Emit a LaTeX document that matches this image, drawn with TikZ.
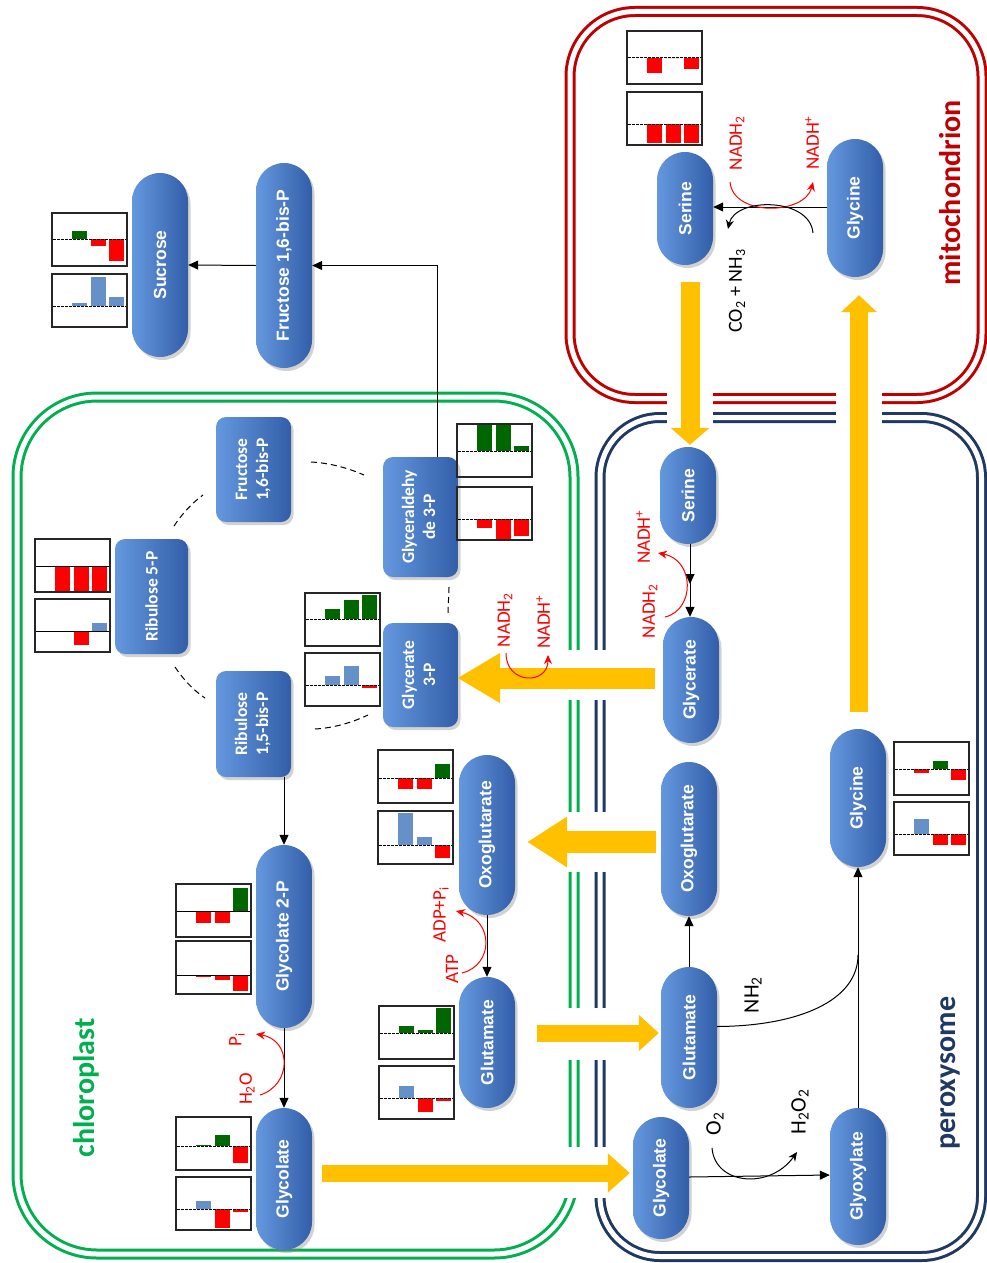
\documentclass[tikz,border=0pt]{standalone}
\usepackage{graphicx}
\usepackage{fontspec}
\setmainfont{Carlito}
\newfontfamily\pillfont{Liberation Sans}
\usetikzlibrary{arrows.meta,shadows,calc}

\definecolor{fatyellow}{HTML}{FFC000}
\definecolor{chlgreen}{HTML}{00B050}
\definecolor{mitored}{HTML}{C00000}
\definecolor{peronavy}{HTML}{1F3864}
\definecolor{bargreen}{HTML}{006600}
\definecolor{barred}{HTML}{FF0000}
\definecolor{barblue}{HTML}{6690C8}
\definecolor{pillL}{RGB}{100,152,222}
\definecolor{pillM}{RGB}{66,116,190}
\definecolor{pillR}{RGB}{50,94,168}

% small bar chart: x, y (top-left), baseline offset, then value/colour for three bars
\newcommand\barchart[9]{%
  \fill[#5] (#1+20,#2+#3) rectangle ++(15,{-(#4)});
  \fill[#7] (#1+38.5,#2+#3) rectangle ++(15,{-(#6)});
  \fill[#9] (#1+57,#2+#3) rectangle ++(15,{-(#8)});
  \draw[chartbase] (#1+1,#2+#3) -- ++(73,0);
  \draw[chartframe] (#1,#2) rectangle ++(75,53);
}
\newcommand\vtext[1]{\rotatebox{90}{#1}}
\newcommand\vstack[2]{\rotatebox{90}{\begin{tabular}{@{}c@{}}#1\\#2\end{tabular}}}

\begin{document}
\begin{tikzpicture}[x=1pt,y=-1pt,
  metab/.style={left color=pillL, middle color=pillM, right color=pillR,
    drop shadow={shadow xshift=2.5pt, shadow yshift=-3pt, opacity=.35},
    inner sep=0pt, text=white},
  pill/.style={metab, rounded corners=28pt, minimum width=56pt,
    font=\pillfont\bfseries\fontsize{17.5}{20}\selectfont},
  calvinbox/.style={metab, rounded corners=10pt, minimum width=75pt,
    font=\bfseries\fontsize{17.5}{21}\selectfont},
  membrane/.style={draw=#1, line width=3pt, double=white, double distance=5pt},
  chartframe/.style={draw=black!85, line width=1.4pt},
  chartbase/.style={black, line width=1pt, dash pattern=on 2.5pt off 1.5pt},
  solidbase/.style={black, line width=1pt},
  arr/.style={black, line width=1pt, -{Triangle[length=10pt,width=9pt]}},
  redarr/.style={barred, line width=1pt, -{Stealth[length=9pt,width=8pt]}},
  cyc/.style={black, line width=1pt, dash pattern=on 6pt off 4pt},
  note/.style={rotate=90, inner sep=0pt, font=\fontsize{19}{22}\selectfont},
  bignote/.style={note, font=\fontsize{22}{25}\selectfont},
  region/.style={rotate=90, inner sep=0pt, font=\bfseries\fontsize{30}{34}\selectfont},
  fat/.style={draw=fatyellow, line width=#1}
]
\fill[white] (0,0) rectangle (987,1263);
\useasboundingbox (0,0) rectangle (987,1263);

% compartments
\draw[membrane=chlgreen, rounded corners=80pt] (17,397) rectangle (574,1254);
\draw[membrane=mitored, rounded corners=65pt] (570,11.5) rectangle (982,398.5);
\draw[membrane=peronavy, rounded corners=60pt] (600,417.5) rectangle (981.5,1256.5);
% openings where metabolites cross
\fill[white] (560,650) rectangle (612,700);
\fill[white] (560,812) rectangle (612,872);
\fill[white] (560,1008) rectangle (612,1060);
\fill[white] (560,1147) rectangle (612,1198);
\fill[white] (667,386) rectangle (713,428);
\fill[white] (836,386) rectangle (882,428);

% metabolites
\node[pill, minimum height=184pt] (sucrose) at (160,265) {\vtext{Sucrose}};
\node[pill, minimum height=205pt] (fbpc) at (284,265.5) {\vtext{Fructose 1,6-bis-P}};
\node[pill, minimum height=183pt] (g2p) at (284,936.5) {\vtext{Glycolate 2-P}};
\node[pill, minimum height=142pt] (glycolC) at (284,1179) {\vtext{Glycolate}};
\node[pill, minimum height=160pt] (oxoC) at (487,835) {\vtext{Oxoglutarate}};
\node[pill, minimum height=131pt] (gluC) at (487,1042.5) {\vtext{Glutamate}};
\node[pill, minimum height=113pt] (serM) at (685,208.5) {\vtext{Serine}};
\node[pill, minimum height=138pt] (glyM) at (855,208) {\vtext{Glycine}};
\node[pill, minimum height=97pt] (serP) at (688,495.5) {\vtext{Serine}};
\node[pill, minimum height=126pt] (glycerP) at (691,680) {\vtext{Glycerate}};
\node[pill, minimum height=154pt] (oxoP) at (689,839) {\vtext{Oxoglutarate}};
\node[pill, minimum height=141pt] (gluP) at (689,1037.5) {\vtext{Glutamate}};
\node[pill, minimum height=122pt] (glycolP) at (661,1178) {\vtext{Glycolate}};
\node[pill, minimum height=137pt] (glyox) at (858,1176.5) {\vtext{Glyoxylate}};
\node[pill, minimum height=138pt] (glyP) at (858,798) {\vtext{Glycine}};

% Calvin cycle
\node[calvinbox, minimum height=105pt] (fbpr) at (253.5,469.5) {\vstack{Fructose}{1,6-bis-P}};
\node[calvinbox, minimum width=73pt, minimum height=115pt] (r5p) at (151.5,596.5) {\vtext{Ribulose 5-P}};
\node[calvinbox, minimum height=120pt] (gap) at (420.5,517) {\vstack{Glyceraldehy}{de 3-P}};
\node[calvinbox, minimum height=104pt] (g3p) at (420.5,675) {\vstack{Glycerate}{3-P}};
\node[calvinbox, minimum height=106pt] (rubp) at (253.5,724) {\vstack{Ribulose}{1,5-bis-P}};

\draw[cyc] (311,462) .. controls (330,463) and (348,468) .. (364,475);
\draw[cyc] (174,526) .. controls (182,514) and (192,503) .. (203,495);
\draw[cyc] (175,667) .. controls (183,679) and (193,690) .. (205,698);
\draw[cyc] (315,729) .. controls (333,728) and (351,723) .. (368,715);
\draw[cyc] (449,587) .. controls (449,596) and (448,604) .. (448,613);

% transport between compartments
\draw[fat=17pt, -{Triangle[length=22pt 0 0,width=38pt 0 0]}] ([shift={(10,-6)}]glycolC.east) -- ([shift={(-3,-5)}]glycolP.west);
\draw[fat=17pt, -{Triangle[length=20pt 0 0,width=35pt 0 0]}] ([shift={(22,-9.5)}]gluC.east) -- ([shift={(-2,-4.5)}]gluP.west);
\draw[fat=22pt, -{Triangle[length=40pt 0 0,width=48pt 0 0]}] ([shift={(-5,3)}]oxoP.west) -- ([shift={(12,7)}]oxoC.east);
\draw[fat=21pt, -{Triangle[length=43pt 0 0,width=47pt 0 0]}] ([shift={(-8,-2)}]glycerP.west) -- ([shift={(-1,3)}]g3p.east);
\draw[fat=19pt, -{Triangle[length=17pt 0 0,width=38pt 0 0]}] ([shift={(5,17)}]serM.south) -- ([shift={(2,-2)}]serP.north);
\draw[fat=18pt, -{Triangle[length=17pt 0 0,width=35pt 0 0]}] ([shift={(1,-17)}]glyP.north) -- ([shift={(4,18)}]glyM.south);

% reactions
\draw[arr] ([xshift=16.5pt]gap.north) |- (fbpc.east);
\draw[arr] (fbpc.west) -- (sucrose.east);
\draw[arr] (rubp.south -| g2p.north) -- (g2p.north);
\draw[arr] (g2p.south) -- (glycolC.north);
\draw[arr] (oxoC.south) -- (gluC.north);
\draw[arr] (glyM.west |- 0,207) -- (serM.east |- 0,207);
\coordinate (sgmid) at (690,584);
\draw[arr] (serP.south -| sgmid) -- (sgmid);
\draw[arr] (serP.south -| sgmid) -- (glycerP.north -| sgmid);
\draw[arr] (gluP.north) -- (oxoP.south);
\draw[arr] (glycolP.east |- 0,1177) -- (glyox.west |- 0,1175);
\draw[arr] (glyox.north) -- (glyP.south);
\coordinate (nhjoin) at (858,955);
\draw[black, line width=1pt] ([shift={(0,-11)}]gluP.east) .. controls (800,1026) and (858,1000) .. (nhjoin);

% cofactors
\draw[redarr] (260,1095) .. controls (292,1085) and (292,1040) .. (256,1034);
\draw[redarr] (462,973) .. controls (494,965) and (494,920) .. (456,911);
\draw[redarr] (506,653) .. controls (506,685) and (548,685) .. (548,655);
\draw[redarr] (665,617) .. controls (695,610) and (695,560) .. (658,553);
\draw[redarr] (730,182) .. controls (733,217) and (805,215) .. (813,182);
\draw[black, line width=1pt, -{Stealth[length=9pt,width=8pt]}] (813,233) .. controls (810,197) and (735,197) .. (728,229);
\draw[black, line width=1pt, -{Stealth[length=9pt,width=8pt]}] (712,1148) .. controls (715,1185) and (770,1190) .. (797,1152);

\node[note, barred] (pi1) at (237,1040) {P\textsubscript{i}};
\node[note, barred] (h2o) at (247,1089) {H\textsubscript{2}O};
\node[note, barred] (atp) at (452,969) {ATP};
\node[note, barred] (adp) at (441,915) {ADP+P\textsubscript{i}};
\node[note, barred] (nadhA) at (505,620) {NADH\textsubscript{2}};
\node[note, barred] (nadpA) at (543,622) {NADH\textsuperscript{+}};
\node[note, barred] (nadpB) at (643,537) {NADH\textsuperscript{+}};
\node[note, barred] (nadhB) at (650,611) {NADH\textsubscript{2}};
\node[note, barred] (nadhC) at (737,143) {NADH\textsubscript{2}};
\node[note, barred] (nadpC) at (812,143) {NADH\textsuperscript{+}};
\node[note, font=\fontsize{20}{23}\selectfont] (co2) at (737,291) {CO\textsubscript{2} + NH\textsubscript{3}};
\node[bignote] (nh2) at (753,995) {NH\textsubscript{2}};
\node[bignote] (o2) at (715,1124) {O\textsubscript{2}};
\node[bignote] (h2o2) at (800,1112) {H\textsubscript{2}O\textsubscript{2}};

\node[region, text=chlgreen] (chl) at (86,1088) {chloroplast};
\node[region, text=mitored] (mito) at (950,193) {mitochondrion};
\node[region, text=peronavy] (perox) at (950,1073) {peroxysome};

% level charts
\barchart{52}{213}{26}{8}{bargreen}{-7}{barred}{-22}{barred}
\barchart{52}{274}{32}{3}{barblue}{29}{barblue}{9}{barblue}
\barchart{627}{31}{27}{-15}{barred}{0}{barred}{-11}{barred}
\barchart{627}{92}{32}{-19}{barred}{-19}{barred}{-19}{barred}
\barchart{457}{424}{27}{26}{bargreen}{26}{bargreen}{5}{bargreen}
\barchart{457}{487}{32}{-9}{barred}{-20}{barred}{-17}{barred}
\barchart{305}{593}{26}{10}{bargreen}{19}{bargreen}{24}{bargreen}
\barchart{305}{653}{32}{9}{barblue}{19}{barblue}{-3}{barred}
\barchart{378}{750}{28}{-11}{barred}{-11}{barred}{14}{bargreen}
\barchart{378}{811}{34}{32}{barblue}{8}{barblue}{-13}{barred}
\barchart{379}{1006}{27}{7}{bargreen}{3}{bargreen}{25}{bargreen}
\barchart{379}{1066}{32}{12}{barblue}{-14}{barred}{-3}{barred}
\barchart{176}{1117}{29}{1}{bargreen}{11}{bargreen}{-17}{barred}
\barchart{176}{1177}{32}{8}{barblue}{-19}{barred}{-3}{barred}
\barchart{894}{742}{27}{-4}{barred}{8}{bargreen}{-11}{barred}
\barchart{894}{802}{32}{15}{barblue}{-11}{barred}{-11}{barred}
\begin{scope}[chartbase/.style={solidbase}]
\barchart{35}{539}{27}{-25}{barred}{-25}{barred}{-25}{barred}
\barchart{35}{599}{32}{0}{barred}{-14}{barred}{8}{barblue}
\barchart{176}{884}{27}{-12}{barred}{-12}{barred}{23}{bargreen}
\barchart{176}{941}{34}{-2}{barred}{-5}{barred}{-16}{barred}
\end{scope}
\end{tikzpicture}
\end{document}
